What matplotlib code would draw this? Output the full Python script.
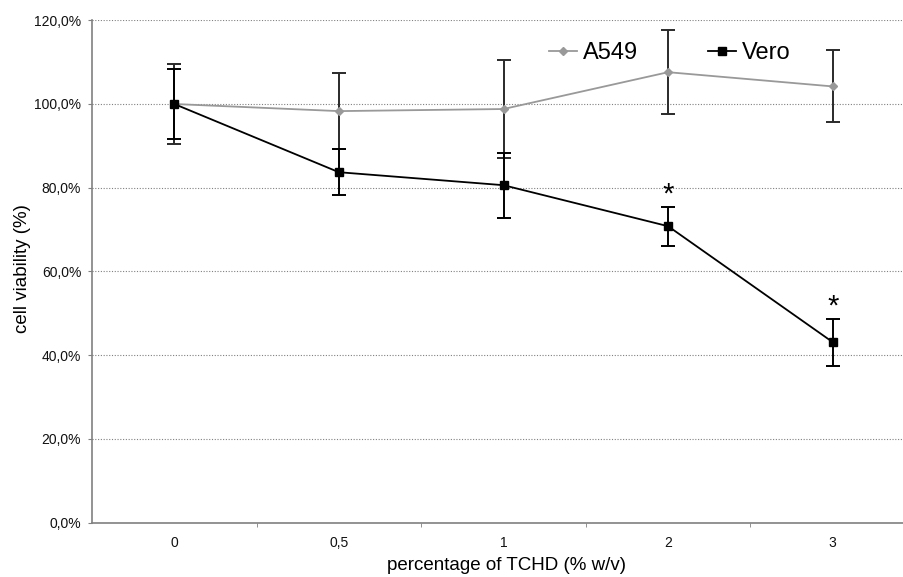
import matplotlib
matplotlib.use('Agg')
import matplotlib.pyplot as plt
from matplotlib.lines import Line2D
from matplotlib.ticker import FuncFormatter, MultipleLocator, FixedLocator

plt.rcParams['font.family'] = ['Liberation Sans', 'DejaVu Sans']

# Cell viability data (% of control)
concentrations = ['0', '0,5', '1', '2', '3']
a549_mean = [100.0, 98.3, 98.8, 107.6, 104.2]
a549_sd = [9.5, 9.1, 11.8, 10.0, 8.6]
vero_mean = [100.0, 83.7, 80.6, 70.8, 43.1]
vero_sd = [8.4, 5.5, 7.8, 4.7, 5.6]
significant = [3, 4]  # indices of Vero points marked with *

x = list(range(len(concentrations)))

a549_style = dict(color='#999999', marker='D', markersize=4,
                  markeredgecolor='#999999', linewidth=1.3)
vero_style = dict(color='black', marker='s', markersize=6, linewidth=1.3)

fig = plt.figure(figsize=(9.04, 5.77), dpi=100)
ax = fig.add_axes([92 / 904, 54.5 / 577, 823 / 904, 502.2 / 577])

# A549 series (grey, small diamonds)
ax.errorbar(x, a549_mean, yerr=a549_sd, ecolor='#2a2a2a', elinewidth=1.4,
            capsize=5, capthick=1.4, zorder=3, **a549_style)

# Vero series (black, squares)
ax.errorbar(x, vero_mean, yerr=vero_sd, ecolor='black', elinewidth=1.4,
            capsize=5, capthick=1.4, zorder=4, **vero_style)

# significance stars above the error bars
for i in significant:
    ax.annotate('*', xy=(x[i], vero_mean[i] + vero_sd[i]), xytext=(0, 3),
                textcoords='offset points', ha='center', va='baseline',
                fontsize=21, color='black')

ax.set_xlim(-0.5, len(concentrations) - 0.5)
ax.set_ylim(0, 120)
ax.yaxis.set_major_locator(MultipleLocator(20))
ax.yaxis.set_major_formatter(FuncFormatter(lambda v, p: f'{v:.1f}%'.replace('.', ',')))
ax.set_xticks(x)
ax.set_xticklabels(concentrations)
ax.xaxis.set_minor_locator(FixedLocator([i + 0.5 for i in x[:-1]]))

ax.grid(axis='y', which='major', color='#808080', linestyle=(0, (1, 1.5)),
        linewidth=0.8)
ax.set_axisbelow(True)

for side in ['top', 'right']:
    ax.spines[side].set_visible(False)
for side in ['left', 'bottom']:
    ax.spines[side].set_color('#808080')
    ax.spines[side].set_linewidth(1.2)

ax.tick_params(axis='y', which='major', direction='out', length=3,
               color='#808080', pad=4.8, labelsize=10, labelcolor='#111111')
ax.tick_params(axis='x', which='major', length=0, pad=9.5, labelsize=10,
               labelcolor='#111111')
ax.tick_params(axis='x', which='minor', direction='out', length=3,
               color='#808080')

ax.set_ylabel('cell viability (%)', fontsize=13.5)
ax.yaxis.set_label_coords(-0.074, 0.505)
ax.set_xlabel('percentage of TCHD (% w/v)', fontsize=13.5)
ax.xaxis.set_label_coords(0.504, -0.068)

handles = [Line2D([], [], **a549_style), Line2D([], [], **vero_style)]
ax.legend(handles, ['A549', 'Vero'], loc='center', bbox_to_anchor=(0.702, 0.935),
          ncol=2, frameon=False, fontsize=17, handlelength=1.15,
          handletextpad=0.25, columnspacing=3.0)

fig.savefig('out.png', dpi=100)
